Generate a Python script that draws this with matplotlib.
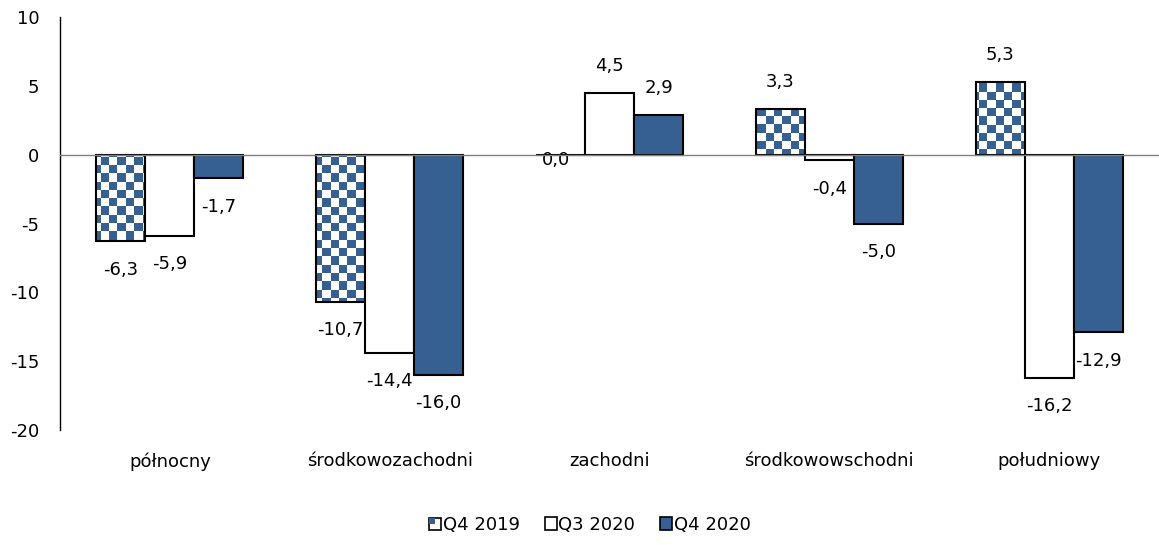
import numpy as np
import matplotlib
matplotlib.use('Agg')
import matplotlib.pyplot as plt
from matplotlib.patches import Rectangle
from matplotlib.legend_handler import HandlerBase

regions = ['północny', 'środkowozachodni', 'zachodni', 'środkowowschodni', 'południowy']
series = ['Q4 2019', 'Q3 2020', 'Q4 2020']
q4_2019 = [-6.3, -10.7, 0.0, 3.3, 5.3]
q3_2020 = [-5.9, -14.4, 4.5, -0.4, -16.2]
q4_2020 = [-1.7, -16.0, 2.9, -5.0, -12.9]

blue = '#376092'
plt.rcParams['font.family'] = 'DejaVu Sans'
plt.rcParams['font.size'] = 13
plt.rcParams['axes.unicode_minus'] = False

fig = plt.figure(figsize=(11.59, 5.45), dpi=100)
ax = fig.add_axes([60 / 1159, 1 - 430 / 545, 1 - 60 / 1159, 413 / 545])

x = np.arange(len(regions))
w = 0.223

# checkerboard used for the Q4 2019 bars
ny, nx = 50, 134
yy, xx = np.mgrid[0:ny, 0:nx]
checker = ((xx + yy) % 2 == 0)
rgb = np.ones((ny, nx, 3))
rgb[checker] = matplotlib.colors.to_rgb(blue)

b1 = ax.bar(x - w, q4_2019, w, facecolor='none', edgecolor='black', lw=1.5, zorder=3)
for bar in b1:
    im = ax.imshow(rgb, extent=[0, 1, 0, 1], transform=ax.transAxes,
                   aspect='auto', interpolation='nearest', zorder=2)
    im.set_clip_path(bar)
b2 = ax.bar(x, q3_2020, w, facecolor='white', edgecolor='black', lw=1.5, zorder=3)
b3 = ax.bar(x + w, q4_2020, w, facecolor=blue, edgecolor='black', lw=1.5, zorder=3)

for bars, vals in [(b1, q4_2019), (b2, q3_2020), (b3, q4_2020)]:
    for bar, v in zip(bars, vals):
        if v > 0:
            off = 19.5
        elif v < 0:
            off = -20.5
        else:
            off = -3.5
        ax.annotate(f'{v:.1f}'.replace('.', ','), (bar.get_x() + bar.get_width() / 2 - (0.02 if v == 0 else 0), v),
                    xytext=(0, off), textcoords='offset points',
                    ha='center', va='center', fontsize=13)

ax.axhline(0, color='#808080', lw=1, zorder=4)
ax.set_xlim(-0.5, 4.5)
ax.set_ylim(-20, 10)
ax.set_yticks([-20, -15, -10, -5, 0, 5, 10])
ax.set_xticks(x)
ax.set_xticklabels(regions)
ax.tick_params(axis='y', length=0, pad=15, labelsize=13)
ax.tick_params(axis='x', length=0, pad=16, labelsize=13)
for s in ['top', 'right', 'bottom']:
    ax.spines[s].set_visible(False)
ax.spines['left'].set_linewidth(1)


class CheckerHandler(HandlerBase):
    def create_artists(self, legend, orig, xd, yd, width, height, fontsize, trans):
        s = height
        x0 = xd + (width - s) / 2
        y0 = yd
        outer = Rectangle((x0, y0), s, s, facecolor='white', edgecolor='black', lw=1.2, transform=trans)
        inner = Rectangle((x0, y0 + s / 2), s / 2, s / 2, facecolor=blue, edgecolor='none', transform=trans)
        return [outer, inner]


h1 = Rectangle((0, 0), 1, 1)
h2 = Rectangle((0, 0), 1, 1, facecolor='white', edgecolor='black', lw=1.2)
h3 = Rectangle((0, 0), 1, 1, facecolor=blue, edgecolor='black', lw=1.2)
fig.legend([h1, h2, h3], series, loc='center', bbox_to_anchor=(0.509, 0.037), ncol=3,
           frameon=False, handlelength=0.65, handleheight=0.65, handletextpad=0.1,
           columnspacing=1.4, fontsize=13, handler_map={h1: CheckerHandler()})

fig.savefig('out.png', dpi=100)
